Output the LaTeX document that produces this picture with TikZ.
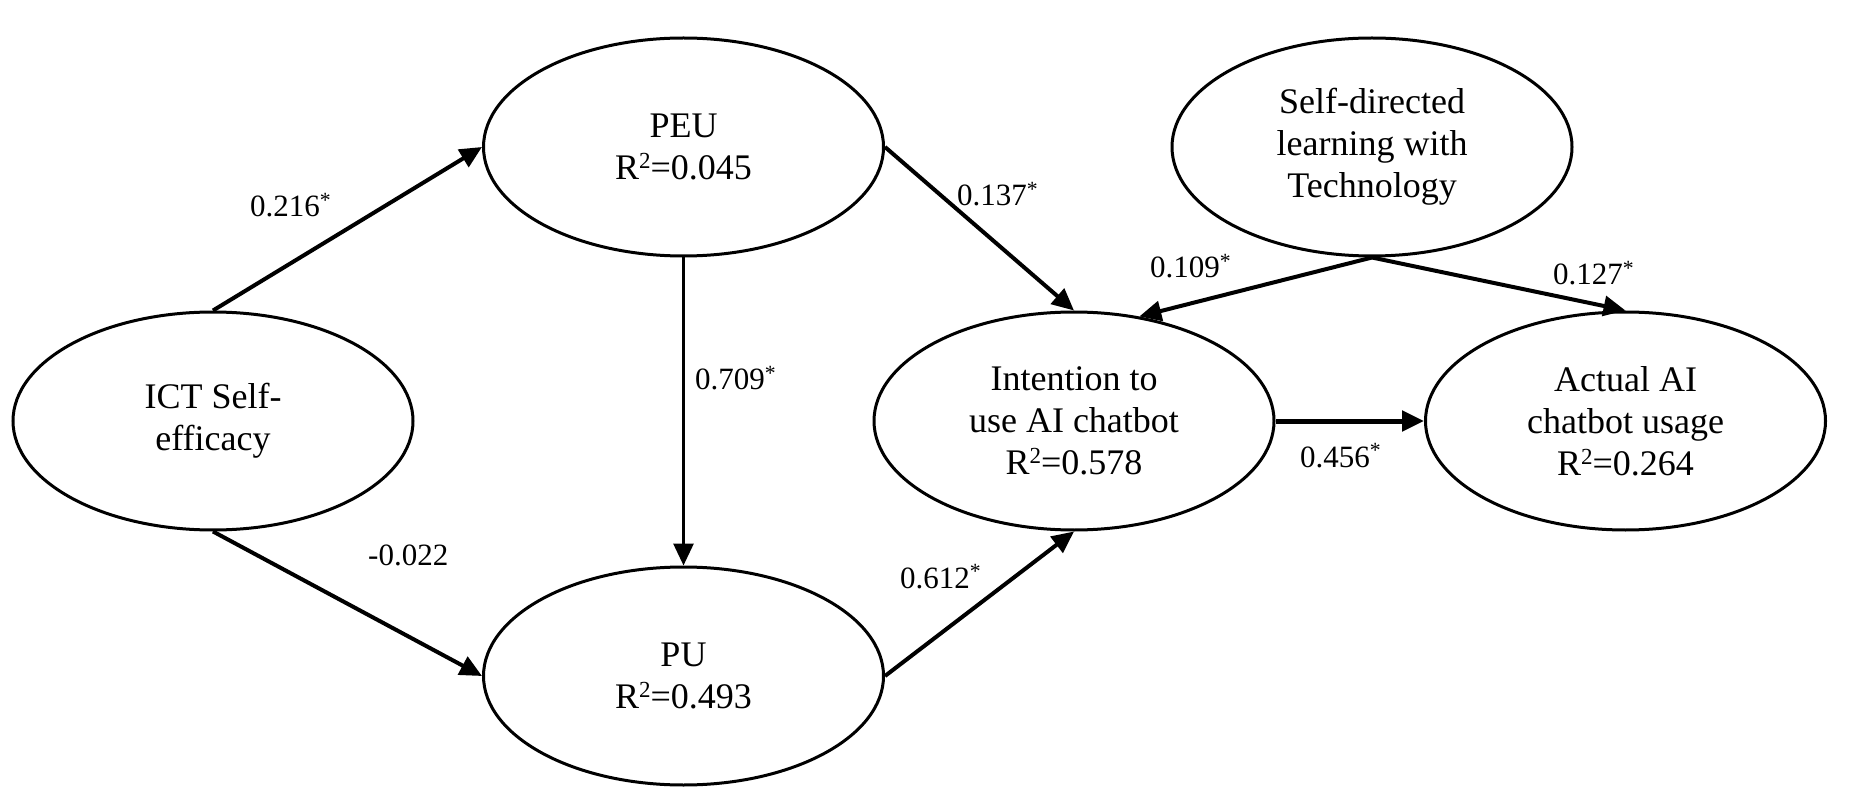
\documentclass[tikz,border=0pt]{standalone}
\usepackage{fontspec}
\setmainfont{Liberation Serif}
\usetikzlibrary{shapes.geometric,arrows.meta}
\newcommand\rsq{R\raisebox{11pt}{\fontsize{23}{23}\selectfont 2}}
\begin{document}
\begin{tikzpicture}[x=1pt,y=-1pt,
  latent/.style={draw,line width=3pt,ellipse,minimum width=400pt,minimum height=218pt,inner sep=0pt,align=center,font=\fontsize{36}{42}\selectfont},
  path/.style={line width=4pt,-{Triangle[length=22pt,width=20pt]}},
  coef/.style={anchor=base west,inner sep=0pt,font=\fontsize{31}{36}\selectfont}]
\useasboundingbox (0,0) rectangle (1855,799);
\node[latent] (ict) at (213,421) {ICT Self-\\efficacy};
\node[latent] (peu) at (683.5,147) {PEU\\\rsq=0.045};
\node[latent] (pu) at (683.5,676) {PU\\\rsq=0.493};
\node[latent] (int) at (1074,421) {Intention to\\use AI chatbot\\\rsq=0.578};
\node[latent] (act) at (1625.5,421) {Actual AI\\chatbot usage\\\rsq=0.264};
\node[latent] (sdl) at (1372,147) {Self-directed\\learning with\\Technology};
\draw[path] (ict.north) -- (peu.west);
\draw[path] (ict.south) -- (pu.west);
\draw[path,line width=3pt] (peu.south) -- (pu.north);
\draw[path] (peu.east) -- (int.north);
\draw[path] (pu.east) -- (int.south);
\draw[path] (sdl.south) -- (int.58.7);
\draw[path] (sdl.south) -- (act.north);
\draw[path,line width=5pt] (int.east) -- (act.west);
\node[coef] (c1) at (250,217) {0.216\textsuperscript{*}};
\node[coef] (c2) at (957,206) {0.137\textsuperscript{*}};
\node[coef] (c3) at (695,390) {0.709\textsuperscript{*}};
\node[coef] (c4) at (368,565) {-0.022};
\node[coef] (c5) at (900,588) {0.612\textsuperscript{*}};
\node[coef] (c6) at (1150,278) {0.109\textsuperscript{*}};
\node[coef] (c7) at (1553,285) {0.127\textsuperscript{*}};
\node[coef] (c8) at (1300,467) {0.456\textsuperscript{*}};
\end{tikzpicture}
\end{document}
